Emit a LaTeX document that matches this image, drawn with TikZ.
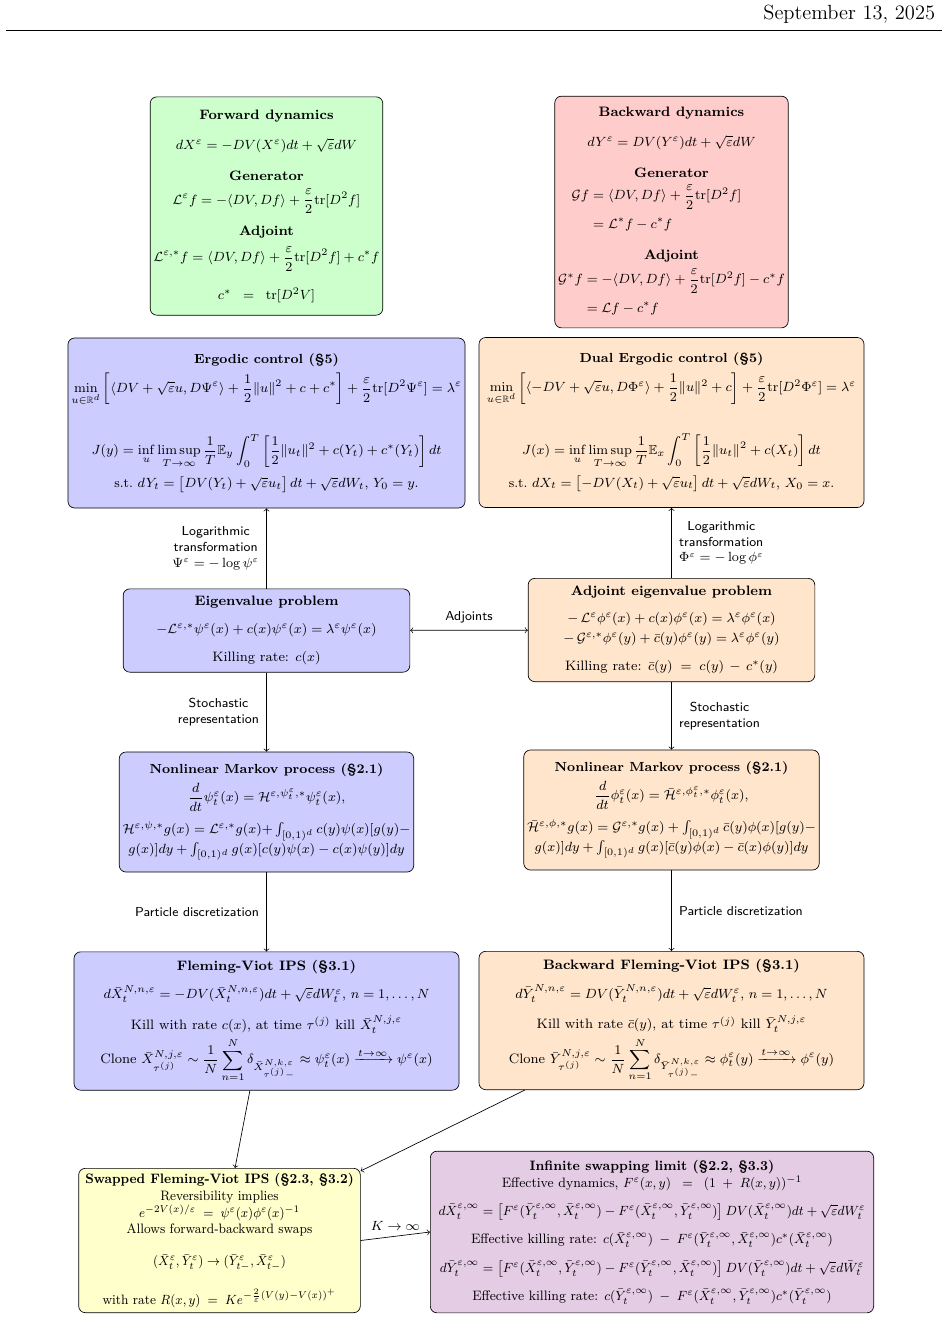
\documentclass[tikz,border=0pt]{standalone}
\usepackage{amsmath,amssymb,graphicx}
\usetikzlibrary{calc}
\definecolor{cgreen}{rgb}{0.8,1,0.8}
\definecolor{cred}{rgb}{1,0.8,0.8}
\definecolor{cblue}{rgb}{0.8,0.8,1}
\definecolor{corange}{rgb}{1,0.9,0.8}
\definecolor{cyellow}{rgb}{1,1,0.8}
\definecolor{cviolet}{rgb}{0.9,0.8,0.9}
\newcommand{\ve}{\varepsilon}
\begin{document}
\begin{tikzpicture}[x=0.6pt,y=-0.6pt,
  box/.style={draw, rounded corners=4pt, align=center, inner sep=2pt,
    font=\fontsize{8.2}{10}\selectfont},
  sbox/.style={box, font=\fontsize{7.9}{9.6}\selectfont},
  lab/.style={align=center, font=\fontsize{7.8}{9.5}\selectfont\sffamily},
  arr/.style={->, thin}]
\useasboundingbox (0,0) rectangle (948,1320);
\node[anchor=east, font=\fontsize{12.3}{15}\selectfont] (date) at (941,14) {September 13, 2025};
\draw (6,30) -- (942,30);

\node[box, fill=cgreen, minimum width=136pt, minimum height=131pt] (fwd) at (266.5,206) {%
\textbf{Forward dynamics}\\[8pt]
$dX^\ve = -DV(X^\ve)dt + \sqrt{\ve}dW$\\[9pt]
\textbf{Generator}\\[4pt]
$\displaystyle\mathcal L^\ve f = -\langle DV, Df\rangle + \frac{\ve}{2}\mathrm{tr}[D^2 f]$\\[6pt]
\textbf{Adjoint}\\[4pt]
$\displaystyle\mathcal L^{\ve,*} f = \langle DV,Df\rangle + \frac{\ve}{2}\mathrm{tr}[D^2f] + c^*f$\\[9pt]
$c^* \;\;=\;\; \mathrm{tr}[D^2V]$};

\node[box, fill=cred, minimum width=136pt, minimum height=139pt] (bwd) at (671.5,212) {%
\textbf{Backward dynamics}\\[8pt]
$dY^\ve = DV(Y^\ve)dt + \sqrt{\ve}dW$\\[9pt]
\textbf{Generator}\\[3pt]
$\begin{aligned}\mathcal G f &= \langle DV, Df\rangle + \dfrac{\ve}{2}\mathrm{tr}[D^2 f]\\ &= \mathcal L^* f - c^* f\end{aligned}\hspace*{18pt}$\\[9pt]
\textbf{Adjoint}\\[3pt]
$\begin{aligned}\mathcal G^* f &= -\langle DV, Df\rangle + \dfrac{\ve}{2}\mathrm{tr}[D^2 f] - c^*f\\ &= \mathcal L f - c^* f\end{aligned}$};

\node[sbox, fill=cblue, minimum width=231pt, minimum height=102pt] (erg) at (266.5,423) {%
\textbf{Ergodic control (\S5)}\\[3pt]
$\displaystyle \min_{u\in\mathbb R^d}\left[\langle DV+\sqrt\ve u, D\Psi^\ve\rangle + \frac12\|u\|^2 + c + c^*\right] + \frac{\ve}{2}\mathrm{tr}[D^2\Psi^\ve] = \lambda^\ve$\\[16pt]
$\displaystyle J(y) = \inf_u \limsup_{T\to\infty}\frac1T\mathbb E_y\int_0^T\left[\frac12\|u_t\|^2 + c(Y_t)+c^*(Y_t)\right]dt$\\[4pt]
s.t.\ $dY_t = \bigl[DV(Y_t)+\sqrt\ve u_t\bigr]\,dt + \sqrt\ve dW_t,\, Y_0=y.$};

\node[sbox, fill=corange, minimum width=231pt, minimum height=102pt] (derg) at (671.5,422.5) {%
\textbf{Dual Ergodic control (\S5)}\\[3pt]
$\displaystyle \min_{u\in\mathbb R^d}\left[\langle -DV+\sqrt\ve u, D\Phi^\ve\rangle + \frac12\|u\|^2 + c\right] + \frac{\ve}{2}\mathrm{tr}[D^2\Phi^\ve] = \lambda^\ve$\\[16pt]
$\displaystyle J(x) = \inf_u \limsup_{T\to\infty}\frac1T\mathbb E_x\int_0^T\left[\frac12\|u_t\|^2 + c(X_t)\right]dt$\\[4pt]
s.t.\ $dX_t = \bigl[-DV(X_t)+\sqrt\ve u_t\bigr]\,dt + \sqrt\ve dW_t,\, X_0=x.$};

\node[box, fill=cblue, minimum width=172pt, minimum height=50pt] (eig) at (266.5,630.5) {%
\textbf{Eigenvalue problem}\\[7pt]
$-\mathcal L^{\ve,*}\psi^\ve(x) + c(x)\psi^\ve(x) = \lambda^\ve\psi^\ve(x)$\\[7pt]
Killing rate: $c(x)$};

\node[box, fill=corange, minimum width=172pt, minimum height=62pt] (aeig) at (671.5,630) {%
\textbf{Adjoint eigenvalue problem}\\[6pt]
$-\,\mathcal L^{\ve}\phi^\ve(x) + c(x)\phi^\ve(x) = \lambda^\ve\phi^\ve(x)$\\[2pt]
$-\,\mathcal G^{\ve,*}\phi^\ve(y) + \bar c(y)\phi^\ve(y) = \lambda^\ve\phi^\ve(y)$\\[7pt]
Killing rate: $\bar c(y) \;=\; c(y) \,-\, c^*(y)$};

\node[sbox, fill=cblue, minimum width=172pt, minimum height=72pt] (nlml) at (266.5,812) {%
\textbf{Nonlinear Markov process (\S2.1)}\\[3pt]
$\displaystyle\frac{d}{dt}\psi_t^\ve(x) = \mathcal H^{\ve,\psi_t^\ve,*}\psi_t^\ve(x),$\\[5pt]
$\mathcal H^{\ve,\psi,*}g(x) = \mathcal L^{\ve,*}g(x) {+} \int_{[0,1)^d} c(y)\psi(x)[g(y)-$\\
$g(x)]dy + \int_{[0,1)^d} g(x)[c(y)\psi(x)-c(x)\psi(y)]dy$};

\node[sbox, fill=corange, minimum width=172pt, minimum height=72pt] (nlmr) at (671.5,810) {%
\textbf{Nonlinear Markov process (\S2.1)}\\[3pt]
$\displaystyle\frac{d}{dt}\phi_t^\ve(x) = \bar{\mathcal H}^{\ve,\phi_t^\ve,*}\phi_t^\ve(x),$\\[5pt]
$\bar{\mathcal H}^{\ve,\phi,*}g(x) = \mathcal G^{\ve,*}g(x) + \int_{[0,1)^d} \bar c(y)\phi(x)[g(y)-$\\
$g(x)]dy + \int_{[0,1)^d} g(x)[\bar c(y)\phi(x)-\bar c(x)\phi(y)]dy$};

\node[box, fill=cblue, minimum width=231pt, minimum height=83pt] (fv) at (266.5,1021) {%
\textbf{Fleming-Viot IPS (\S3.1)}\\[6pt]
$d\bar X_t^{N,n,\ve} = -DV(\bar X_t^{N,n,\ve})dt + \sqrt\ve dW_t^\ve,\, n=1,\dots,N$\\[7pt]
Kill with rate $c(x),$ at time $\tau^{(j)}$ kill $\bar X_t^{N,j,\ve}$\\[2pt]
Clone $\bar X^{N,j,\ve}_{\tau^{(j)}} \sim \displaystyle\frac1N\sum_{n=1}^N \delta_{\bar X^{N,k,\ve}_{\tau^{(j)}-}} \approx \psi_t^\ve(x) \xrightarrow{t\to\infty} \psi^\ve(x)$};

\node[box, fill=corange, minimum width=231pt, minimum height=83pt] (bfv) at (671.5,1020.5) {%
\textbf{Backward Fleming-Viot IPS (\S3.1)}\\[6pt]
$d\bar Y_t^{N,n,\ve} = DV(\bar Y_t^{N,n,\ve})dt + \sqrt\ve dW_t^\ve,\, n=1,\dots,N$\\[7pt]
Kill with rate $\bar c(y),$ at time $\tau^{(j)}$ kill $\bar Y_t^{N,j,\ve}$\\[2pt]
Clone $\bar Y^{N,j,\ve}_{\tau^{(j)}} \sim \displaystyle\frac1N\sum_{n=1}^N \delta_{\bar Y^{N,k,\ve}_{\tau^{(j)}-}} \approx \phi_t^\ve(y) \xrightarrow{t\to\infty} \phi^\ve(y)$};

\node[box, fill=cyellow, minimum width=169pt, minimum height=82pt] (swp) at (219.5,1240.5) {\scalebox{0.92}[1]{\begin{tabular}{@{}c@{}}
\textbf{Swapped Fleming-Viot IPS (\S2.3, \S3.2)}\\
Reversibility implies\\
$e^{-2V(x)/\ve} \;=\; \psi^\ve(x)\phi^\ve(x)^{-1}$\\
Allows forward-backward swaps\\[9pt]
$(\bar X_t^\ve,\bar Y_t^\ve)\to(\bar Y_{t-}^\ve,\bar X_{t-}^\ve)$\\[11pt]
with rate $R(x,y) \;=\; Ke^{-\frac{2}{\ve}(V(y)-V(x))^+}$\end{tabular}}};

\node[box, fill=cviolet, minimum width=266pt, minimum height=97pt] (inf) at (652,1232) {\scalebox{0.95}[1]{\begin{tabular}{@{}c@{}}
\textbf{Infinite swapping limit (\S2.2, \S3.3)}\\
Effective dynamics, $F^\ve(x,y) \;\;=\;\; (1\;+\;R(x,y))^{-1}$\\[7pt]
$d\bar X_t^{\ve,\infty} = \left[F^\ve(\bar Y_t^{\ve,\infty},\bar X_t^{\ve,\infty}) - F^\ve(\bar X_t^{\ve,\infty},\bar Y_t^{\ve,\infty})\right] DV(\bar X_t^{\ve,\infty})dt + \sqrt\ve dW_t^\ve$\\[7pt]
Effective killing rate: $c(\bar X_t^{\ve,\infty}) \;-\; F^\ve(\bar Y_t^{\ve,\infty},\bar X_t^{\ve,\infty})c^*(\bar X_t^{\ve,\infty})$\\[7pt]
$d\bar Y_t^{\ve,\infty} = \left[F^\ve(\bar X_t^{\ve,\infty},\bar Y_t^{\ve,\infty}) - F^\ve(\bar Y_t^{\ve,\infty},\bar X_t^{\ve,\infty})\right] DV(\bar Y_t^{\ve,\infty})dt + \sqrt\ve d\bar W_t^\ve$\\[7pt]
Effective killing rate: $c(\bar Y_t^{\ve,\infty}) \;-\; F^\ve(\bar X_t^{\ve,\infty},\bar Y_t^{\ve,\infty})c^*(\bar Y_t^{\ve,\infty})$\end{tabular}}};

% connectors
\draw[arr] (eig) -- (erg) node[midway, left=1pt, lab] {Logarithmic\\transformation\\$\Psi^\ve=-\log\psi^\ve$};
\draw[arr] (aeig) -- (derg) node[midway, right=1pt, lab] {Logarithmic\\transformation\\$\Phi^\ve=-\log\phi^\ve$};
\draw[arr] (eig) -- (nlml) node[midway, left=1pt, lab] {Stochastic\\representation};
\draw[arr] (aeig) -- (nlmr) node[midway, right=1pt, lab] {Stochastic\\representation};
\draw[arr] (nlml) -- (fv) node[midway, left=1pt, lab] {Particle discretization};
\draw[arr] (nlmr) -- (bfv) node[midway, right=1pt, lab] {Particle discretization};
\draw[<->, thin] (eig) -- (aeig) node[midway, above=1pt, lab] {Adjoints};
\draw[arr] ($(fv.south west)!0.457!(fv.south east)$) -- ($(swp.north west)!0.555!(swp.north east)$);
\draw[arr] ($(bfv.south west)!0.12!(bfv.south east)$) -- ($(swp.north east)+(0,3)$);
\draw[arr] (swp.east) -- (inf.west) node[midway, above, font=\fontsize{8.2}{10}\selectfont] {$K\to\infty$};
\end{tikzpicture}
\end{document}
